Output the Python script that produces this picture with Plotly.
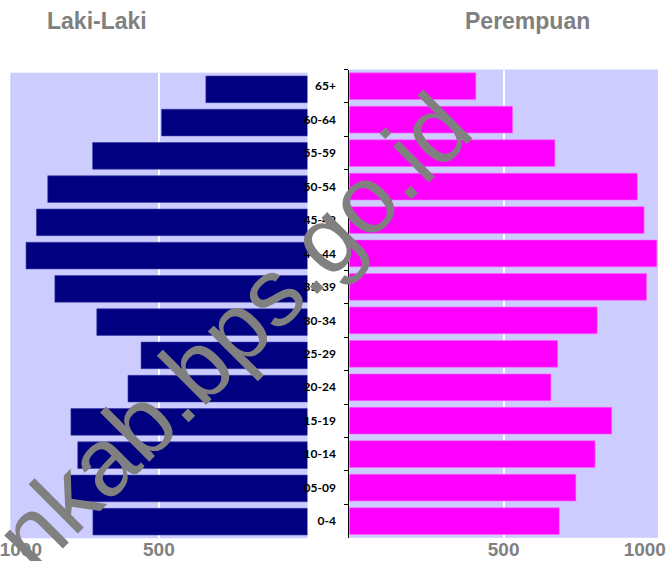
import plotly.graph_objects as go

# Age groups, bottom to top
age_groups = ["0-4", "05-09", "10-14", "15-19", "20-24", "25-29", "30-34",
              "35-39", "40-44", "45-49", "50-54", "55-59", "60-64", "65+"]
laki_laki = [722, 810, 773, 796, 604, 560, 709, 850, 947, 912, 874, 723, 491, 342]
perempuan = [680, 734, 796, 850, 653, 675, 803, 963, 996, 955, 933, 666, 529, 410]

x_tick_vals = [500, 1000]
left_tick_text = ["500", "\u00a0\u00a0\u00a0\u00a01000"]
right_tick_text = ["500", "1000\u00a0\u00a0\u00a0\u00a0\u00a0"]

W, H = 669, 561
def px_x(v):
    return v / W
def px_y(v):
    return (H - v) / H

fig = go.Figure()
fig.add_trace(go.Bar(
    x=laki_laki, y=age_groups, orientation="h",
    marker=dict(color="#000080", line=dict(color="#3a3aa0", width=0.6)),
    xaxis="x", yaxis="y", name="Laki-Laki", showlegend=False,
))
fig.add_trace(go.Bar(
    x=perempuan, y=age_groups, orientation="h",
    marker=dict(color="#FF00FF", line=dict(color="#ff66ff", width=0.6)),
    xaxis="x2", yaxis="y2", name="Perempuan", showlegend=False,
))

tick_font = dict(family="Liberation Sans", size=19, color="#808080", weight="bold")

fig.update_layout(
    width=W, height=H,
    margin=dict(l=0, r=0, t=0, b=0),
    paper_bgcolor="white",
    plot_bgcolor="#CCCCFF",
    bargap=0.2,
    showlegend=False,
    xaxis=dict(
        domain=[px_x(10.3), px_x(307.5)], range=[1000, 0],
        tickmode="array", tickvals=x_tick_vals, ticktext=left_tick_text,
        tickfont=tick_font, showgrid=True, gridcolor="white", gridwidth=2,
        zeroline=False, showline=False, ticks="", anchor="y", automargin=False,
        ticklabeloverflow="allow", ticklabelstandoff=-2,
    ),
    yaxis=dict(
        domain=[px_y(538.3), px_y(72.7)], type="category",
        categoryorder="array", categoryarray=age_groups,
        showticklabels=False, showgrid=False, zeroline=False, showline=False,
        ticks="", anchor="x", automargin=False,
    ),
    xaxis2=dict(
        domain=[px_x(349.3), px_x(658)], range=[0, 1000],
        tickmode="array", tickvals=x_tick_vals, ticktext=right_tick_text,
        tickfont=tick_font, showgrid=True, gridcolor="white", gridwidth=2,
        zeroline=False, showline=False, ticks="", anchor="y2", automargin=False,
        ticklabeloverflow="allow", ticklabelstandoff=-2,
    ),
    yaxis2=dict(
        domain=[px_y(537.8), px_y(69.5)], type="category",
        categoryorder="array", categoryarray=age_groups,
        showticklabels=True, tickson="boundaries", ticks="outside", ticklen=4,
        tickcolor="black", showline=True, linecolor="black", linewidth=1,
        tickfont=dict(family="Lato", size=12, color="black", weight="bold"),
        ticklabelstandoff=10,
        showgrid=False, zeroline=False, anchor="x2", side="left",
        automargin=False,
    ),
)

title_font = dict(family="Liberation Sans", size=23, color="#808080", weight="bold")
fig.add_annotation(text="Laki-Laki", x=px_x(97), y=px_y(21), xref="paper", yref="paper",
                   xanchor="center", yanchor="middle", showarrow=False, font=title_font)
fig.add_annotation(text="Perempuan", x=px_x(527), y=px_y(21), xref="paper", yref="paper",
                   xanchor="center", yanchor="middle", showarrow=False, font=title_font)

# Watermark
fig.add_annotation(text="nkab.bps.go.id", x=px_x(232), y=px_y(331), xref="paper", yref="paper",
                   xanchor="center", yanchor="middle", showarrow=False, textangle=-45,
                   font=dict(family="Liberation Sans", size=96, color="#808080"))

fig.write_html(
    "out.html",
    config={"displayModeBar": False},
    post_script="document.body.style.margin='0';document.body.style.padding='0';document.body.style.overflow='hidden';",
)
